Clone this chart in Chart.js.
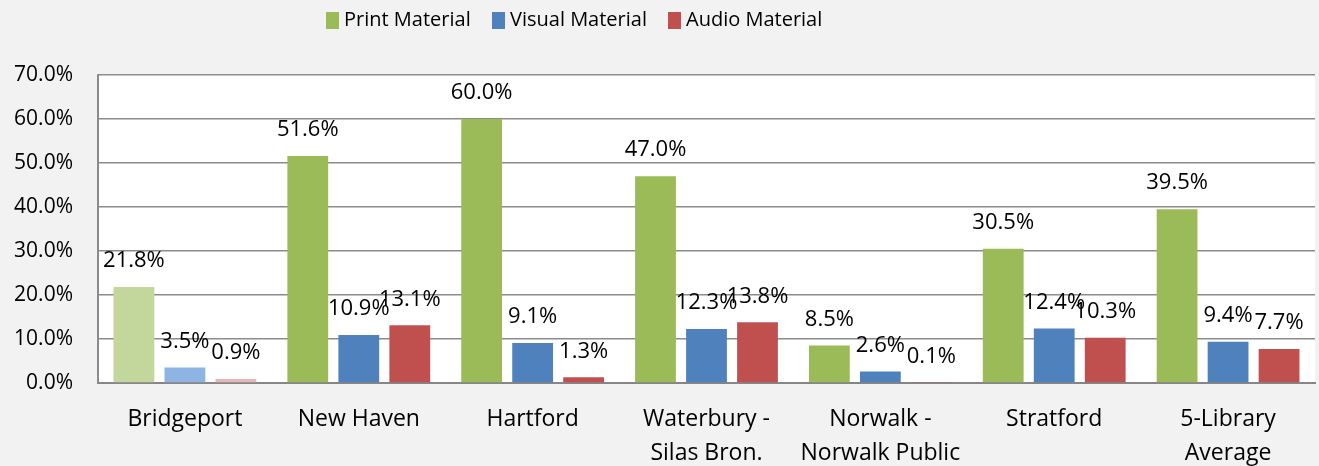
<!DOCTYPE html>
<html>
<head>
<meta charset="utf-8">
<script src="https://cdn.jsdelivr.net/npm/chart.js@4.4.1/dist/chart.umd.min.js"></script>
<style>
  html, body { margin: 0; padding: 0; background: #f2f2f2; }
  #wrap { width: 1319px; height: 466px; position: relative; }
</style>
</head>
<body>
<div id="wrap"><canvas id="chart"></canvas></div>
<script>
// Données
const libraries = [
    ['Bridgeport'], ['New Haven'], ['Hartford'], ['Waterbury -', 'Silas Bron.'],
    ['Norwalk -', 'Norwalk Public'], ['Stratford'], ['5-Library', 'Average']
];
const printMaterial = [21.8, 51.6, 60.0, 47.0, 8.5, 30.5, 39.5];
const visualMaterial = [3.5, 10.9, 9.1, 12.3, 2.6, 12.4, 9.4];
const audioMaterial = [0.9, 13.1, 1.3, 13.8, 0.1, 10.3, 7.7];
const yTicks = [0, 10, 20, 30, 40, 50, 60, 70];

const FONT = "'Open Sans', sans-serif";

// Bridgeport en couleur pâle
const colorsFor = (main, pale) => libraries.map((l, i) => i === 0 ? pale : main);

// fond blanc de la zone de tracé
const plotBg = {
    id: 'plotBg',
    beforeDraw: (chart) => {
        const { ctx, chartArea } = chart;
        ctx.save();
        ctx.fillStyle = '#ffffff';
        ctx.fillRect(chartArea.left, chartArea.top, chartArea.right - chartArea.left, chartArea.bottom - chartArea.top);
        ctx.restore();
    }
};

// étiquettes au-dessus des barres
const valueLabels = {
    id: 'valueLabels',
    afterDatasetsDraw: (chart) => {
        const ctx = chart.ctx;
        ctx.save();
        ctx.font = "22px " + FONT;
        ctx.fillStyle = '#000';
        ctx.textAlign = 'center';
        ctx.textBaseline = 'middle';
        chart.data.datasets.forEach((ds, di) => {
            chart.getDatasetMeta(di).data.forEach((bar, i) => {
                ctx.fillText(ds.data[i].toFixed(1) + '%', bar.x, bar.y - 26);
            });
        });
        ctx.restore();
    }
};

// légende en haut, décalée à gauche comme l'original
const topLegend = {
    id: 'topLegend',
    afterDraw: (chart) => {
        const ctx = chart.ctx;
        const starts = [326, 492, 668];
        ctx.save();
        ctx.font = "20px " + FONT;
        ctx.textBaseline = 'middle';
        ctx.textAlign = 'left';
        chart.data.datasets.forEach((ds, i) => {
            ctx.fillStyle = ds.legendColor;
            ctx.fillRect(starts[i], 12, 13, 17);
            ctx.fillStyle = '#000';
            ctx.fillText(ds.label, starts[i] + 18, 20);
        });
        ctx.restore();
    }
};

new Chart(document.getElementById('chart'), {
    type: 'bar',
    data: {
        labels: libraries,
        datasets: [
            { label: 'Print Material', data: printMaterial, backgroundColor: colorsFor('#9bbb59', '#c3d69b'), legendColor: '#9bbb59' },
            { label: 'Visual Material', data: visualMaterial, backgroundColor: colorsFor('#4f81bd', '#8eb4e3'), legendColor: '#4f81bd' },
            { label: 'Audio Material', data: audioMaterial, backgroundColor: colorsFor('#c0504d', '#e6b9b8'), legendColor: '#c0504d' }
        ]
    },
    options: {
        responsive: true,
        maintainAspectRatio: false,
        animation: false,
        layout: { padding: { top: 75, right: 4, left: 0, bottom: 0 } },
        datasets: { bar: { categoryPercentage: 0.88, barPercentage: 0.8 } },
        scales: {
            x: {
                grid: { display: false },
                border: { color: '#868686', width: 2 },
                ticks: { color: '#000', font: { family: FONT, size: 23, lineHeight: 1.45 }, padding: 12, maxRotation: 0, autoSkip: false },
                afterFit: (scale) => { scale.height = 83; }
            },
            y: {
                min: 0, max: 70,
                afterBuildTicks: (scale) => { scale.ticks = yTicks.map(v => ({ value: v })); },
                grid: { color: '#8c8c8c', lineWidth: 1.5, drawTicks: false },
                border: { color: '#8c8c8c', width: 2 },
                ticks: { color: '#000', font: { family: FONT, size: 21 }, padding: 25, callback: (v) => v.toFixed(1) + '%' },
                afterFit: (scale) => { scale.width = 98; }
            }
        },
        plugins: {
            legend: { display: false },
            tooltip: { enabled: false }
        }
    },
    plugins: [plotBg, valueLabels, topLegend]
});
</script>
</body>
</html>
